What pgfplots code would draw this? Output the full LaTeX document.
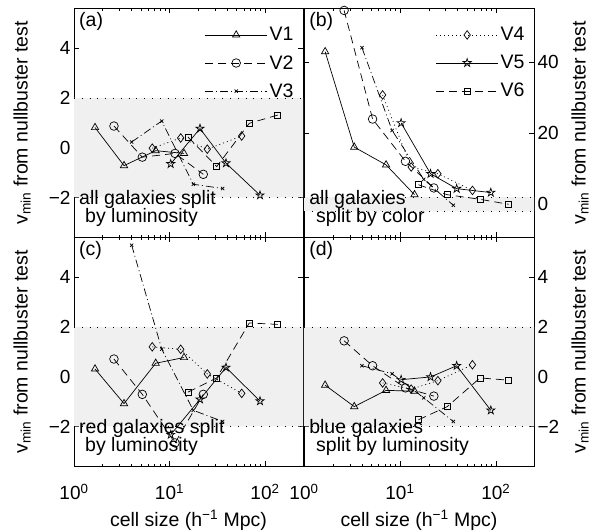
\documentclass[border=0pt]{standalone}
\usepackage{fontspec}
\setmainfont{Liberation Sans}
\usepackage{pgfplots}
\pgfplotsset{compat=1.18}

\pgfdeclareplotmark{pentagram}{%
  \pgfpathmoveto{\pgfpointpolar{90}{\pgfplotmarksize}}%
  \pgfpathlineto{\pgfpointpolar{126}{0.382\pgfplotmarksize}}%
  \pgfpathlineto{\pgfpointpolar{162}{\pgfplotmarksize}}%
  \pgfpathlineto{\pgfpointpolar{198}{0.382\pgfplotmarksize}}%
  \pgfpathlineto{\pgfpointpolar{234}{\pgfplotmarksize}}%
  \pgfpathlineto{\pgfpointpolar{270}{0.382\pgfplotmarksize}}%
  \pgfpathlineto{\pgfpointpolar{306}{\pgfplotmarksize}}%
  \pgfpathlineto{\pgfpointpolar{342}{0.382\pgfplotmarksize}}%
  \pgfpathlineto{\pgfpointpolar{18}{\pgfplotmarksize}}%
  \pgfpathlineto{\pgfpointpolar{54}{0.382\pgfplotmarksize}}%
  \pgfpathclose
  \pgfusepathqstroke
}

\newcommand{\tfont}{\fontsize{19}{22}\selectfont}
\newcommand{\lfont}{\fontsize{19.5}{22}\selectfont}

\tikzset{
  V1/.style={black, line width=0.7pt, mark=triangle, mark size=4.2pt, mark options={solid}},
  V2/.style={black, line width=0.7pt, dash pattern=on 8pt off 5pt, mark=o, mark size=4.3pt, mark options={solid}},
  V3/.style={black, line width=0.7pt, dash pattern=on 8pt off 3pt on 1pt off 3pt, mark=x, mark size=2.3pt, mark options={solid}},
  V4/.style={black, line width=0.7pt, dash pattern=on 1pt off 3pt, mark=diamond, mark size=4.3pt, mark options={solid}},
  V5/.style={black, line width=0.7pt, mark=pentagram, mark size=4.3pt, mark options={solid}},
  V6/.style={black, line width=0.7pt, dash pattern=on 8pt off 5pt, mark=square, mark size=3pt, mark options={solid}},
  band/.style={draw=none, fill=black!6},
  dline/.style={black, line width=0.6pt, dash pattern=on 0.8pt off 7pt},
  note/.style={anchor=base west, font=\lfont, inner sep=0pt},
  plab/.style={anchor=north west, font=\lfont, inner sep=0pt},
}

\pgfplotsset{
  every axis/.append style={
    scale only axis, height=229pt,
    xmin=1, xmax=250, xtick={1,10,100},
    tick align=inside, major tick length=5pt, minor tick length=2.5pt,
    axis line style={line width=0.9pt},
    tick style={black, line width=0.5pt},
    tick label style={font=\tfont},
    x tick label style={anchor=base, yshift=-33pt},
    label style={font=\lfont},
    xlabel style={at={(axis description cs:0.5,-0.265)}, anchor=base},
    legend style={draw=none, fill=none, at={(0.972,0.93)}, anchor=north east,
      font=\lfont, row sep=9pt, inner sep=1pt},
    legend cell align=left,
    legend image code/.code={%
      \draw[#1] (0pt,0pt) -- (62pt,0pt);
      \draw[#1] plot coordinates {(31pt,0pt)};},
  },
  leftax/.style={width=229pt, ymin=-3.6, ymax=5.6, ytick={-2,0,2,4}, yticklabels={−2,0,2,4},
    ylabel={v\textsubscript{min} from nullbuster test},
    ylabel style={at={(axis description cs:-0.227,0.5)}, anchor=center, font=\lfont}},
  rightax/.style={width=230pt, yticklabel pos=right,
    ylabel={v\textsubscript{min} from nullbuster test},
    ylabel style={at={(axis description cs:1.2,0.5)}, anchor=center, font=\lfont}},
  botax/.style={xticklabels={10\textsuperscript{0},10\textsuperscript{1},10\textsuperscript{2}},
    xlabel={cell size (h\textsuperscript{−1} Mpc)}},
}

\begin{document}
\begin{tikzpicture}
% ---------------- (a) ----------------
\begin{axis}[xmode=log, leftax, at={(74pt,294.7pt)}, anchor=south west, xticklabels={}]
\addplot[band, forget plot] coordinates {(1,-2) (250,-2) (250,2) (1,2) (1,-2)};
\addplot[dline, forget plot] coordinates {(1,2) (250,2)};
\addplot[dline, forget plot] coordinates {(1,-2) (250,-2)};
\addplot[V1] coordinates {(1.66,0.81) (3.34,-0.72) (7.17,-0.12) (14.19,-0.23)};
\addlegendentry{V1}
\addplot[V2] coordinates {(2.62,0.87) (5.19,-0.38) (11.42,-0.23) (22.59,-1.07)};
\addlegendentry{V2}
\addplot[V3] coordinates {(4.02,0.23) (8.29,1.07) (17.75,-1.47) (36.07,-1.64)};
\addlegendentry{V3}
\addplot[V4, forget plot] coordinates {(6.60,-0.02) (13.10,0.39) (24.88,-0.06) (57.02,0.47)};
\addplot[V5, forget plot] coordinates {(10.29,-0.65) (20.86,0.77) (39.05,-0.62) (88.65,-1.91)};
\addplot[V6, forget plot] coordinates {(15.62,0.43) (31.20,-0.76) (68.48,0.98) (135.8,1.31)};
\node[plab] at (rel axis cs:0.022,0.985) {(a)};
\node[note] at (rel axis cs:0.022,0.143) {all galaxies split};
\node[note] at (rel axis cs:0.048,0.065) {by luminosity};
\end{axis}
% ---------------- (b) ----------------
\begin{axis}[xmode=log, rightax, at={(304pt,294.7pt)}, anchor=south west, xticklabels={},
  ymin=-9.3, ymax=55.2, ytick={0,20,40}, yticklabels={0,20,40}]
\addplot[band, forget plot] coordinates {(1,-2) (250,-2) (250,2) (1,2) (1,-2)};
\addplot[dline, forget plot] coordinates {(1,2) (250,2)};
\addplot[dline, forget plot] coordinates {(1,-2) (250,-2)};
\addplot[V4] coordinates {(6.60,30.8) (13.10,10.5) (24.88,8.6) (57.02,3.9)};
\addlegendentry{V4}
\addplot[V5] coordinates {(10.29,22.9) (20.86,8.6) (39.05,4.4) (88.65,3.3)};
\addlegendentry{V5}
\addplot[V6] coordinates {(15.62,5.5) (31.20,2.7) (68.48,1.4) (135.8,0.0)};
\addlegendentry{V6}
\addplot[V1, forget plot] coordinates {(1.66,43.0) (3.34,16.1) (7.17,11.1) (14.19,2.7)};
\addplot[V2, forget plot] coordinates {(2.62,54.6) (5.19,24.0) (11.42,12.1) (22.59,4.6)};
\addplot[V3, forget plot] coordinates {(4.02,44.1) (8.29,20.8) (17.75,7.0) (36.07,-0.3)};
\node[plab] at (rel axis cs:0.022,0.985) {(b)};
\node[note] at (rel axis cs:0.022,0.143) {all galaxies};
\node[note] at (rel axis cs:0.052,0.065) {split by color};
\end{axis}
% ---------------- (c) ----------------
\begin{axis}[xmode=log, leftax, botax, at={(74pt,65.7pt)}, anchor=south west]
\addplot[band, forget plot] coordinates {(1,-2) (250,-2) (250,2) (1,2) (1,-2)};
\addplot[dline, forget plot] coordinates {(1,2) (250,2)};
\addplot[dline, forget plot] coordinates {(1,-2) (250,-2)};
\addplot[V1] coordinates {(1.66,0.31) (3.34,-1.08) (7.17,0.54) (14.19,0.77)};
\addplot[V2] coordinates {(2.62,0.71) (5.19,-0.71) (11.42,-2.66) (22.59,-0.71)};
\addplot[V3] coordinates {(4.02,5.28) (8.29,1.11) (17.75,-1.35) (36.07,-1.8)};
\addplot[V4] coordinates {(6.60,1.2) (13.10,1.1) (24.88,0.11) (57.02,-0.67)};
\addplot[V5] coordinates {(10.29,-2.33) (20.86,-0.91) (39.05,0.37) (88.65,-0.98)};
\addplot[V6] coordinates {(15.62,-0.62) (31.20,-0.05) (68.48,2.16) (135.8,2.1)};
\node[plab] at (rel axis cs:0.022,0.985) {(c)};
\node[note] at (rel axis cs:0.022,0.143) {red galaxies split};
\node[note] at (rel axis cs:0.048,0.065) {by luminosity};
\end{axis}
% ---------------- (d) ----------------
\begin{axis}[xmode=log, rightax, botax, at={(304pt,65.7pt)}, anchor=south west,
  ymin=-3.6, ymax=5.6, ytick={-2,0,2,4}, yticklabels={−2,0,2,4}]
\addplot[band, forget plot] coordinates {(1,-2) (250,-2) (250,2) (1,2) (1,-2)};
\addplot[dline, forget plot] coordinates {(1,2) (250,2)};
\addplot[dline, forget plot] coordinates {(1,-2) (250,-2)};
\addplot[V1] coordinates {(1.66,-0.34) (3.34,-1.2) (7.17,-0.55) (14.19,-0.58)};
\addplot[V2] coordinates {(2.62,1.44) (5.19,0.44) (11.42,-0.45) (22.59,-0.78)};
\addplot[V3] coordinates {(4.02,0.44) (8.29,0.12) (17.75,-0.85) (36.07,-1.8)};
\addplot[V4] coordinates {(6.60,-0.25) (13.10,-0.5) (24.88,-0.16) (57.02,0.48)};
\addplot[V5] coordinates {(10.29,-0.12) (20.86,-0.01) (39.05,0.44) (88.65,-1.35)};
\addplot[V6] coordinates {(15.62,-1.73) (31.20,-1.2) (68.48,-0.05) (135.8,-0.14)};
\node[plab] at (rel axis cs:0.022,0.985) {(d)};
\node[note] at (rel axis cs:0.022,0.143) {blue galaxies};
\node[note] at (rel axis cs:0.052,0.065) {split by luminosity};
\end{axis}
\pgfresetboundingbox
\path (0pt,0pt) rectangle (594pt,532pt);
\end{tikzpicture}
\end{document}
